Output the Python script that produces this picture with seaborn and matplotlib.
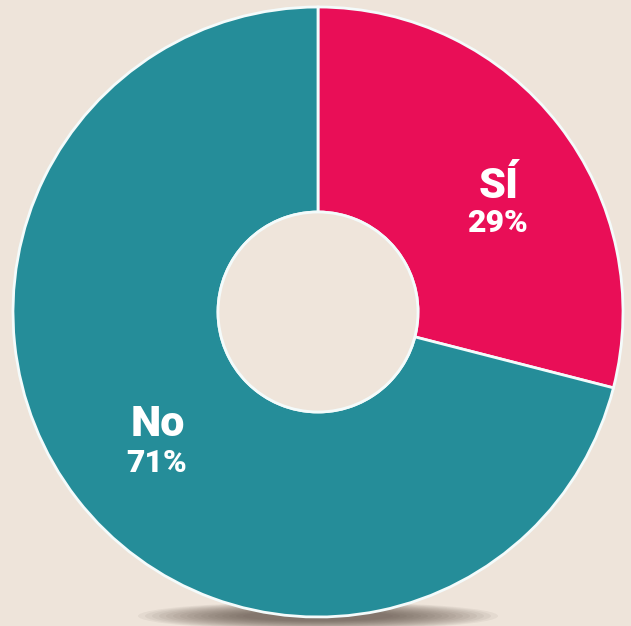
import numpy as np
import matplotlib.pyplot as plt
import seaborn as sns
from matplotlib.patches import Ellipse, Circle

sns.set_theme(style="white")
plt.rcParams["font.family"] = ["Roboto", "DejaVu Sans"]

# data
labels = ["SÍ", "No"]
values = [29, 71]
colors = ["#E90E57", "#258D99"]
bg = "#EEE4DA"

W, H = 631, 626
fig = plt.figure(figsize=(W / 100, H / 100), dpi=100, facecolor=bg)
ax = fig.add_axes([0, 0, 1, 1])
ax.set_facecolor(bg)

cx, cy, R = 318, H - 312, 305

# soft shadow under the donut
for i in range(16):
    ax.add_patch(Ellipse((cx, cy - R + 1), 360 - i * 14, 28 - i * 1.2,
                         color="#4a3a34", alpha=0.06, lw=0, zorder=0))

wedges, _ = ax.pie(values, colors=colors, startangle=90, counterclock=False,
                   center=(cx, cy), radius=R,
                   wedgeprops=dict(width=R - 100, edgecolor="#F4FBFB", linewidth=2))
ax.add_patch(Circle((cx, cy), 100, facecolor="#EFE5DB", edgecolor="#F4FBFB", lw=2, zorder=5))

txt = dict(color="white", fontweight="heavy", ha="center", va="center", zorder=6)
ax.text(499, H - 186, labels[0], fontsize=31, **txt)
ax.text(497, H - 223, f"{values[0]}%", fontsize=23, **txt)
ax.text(158, H - 425, labels[1], fontsize=31, **txt)
ax.text(157, H - 463, f"{values[1]}%", fontsize=23, **txt)

ax.set_xlim(0, W)
ax.set_ylim(0, H)
ax.set_aspect("auto")
ax.axis("off")

fig.savefig("out.png", dpi=100, facecolor=bg)
